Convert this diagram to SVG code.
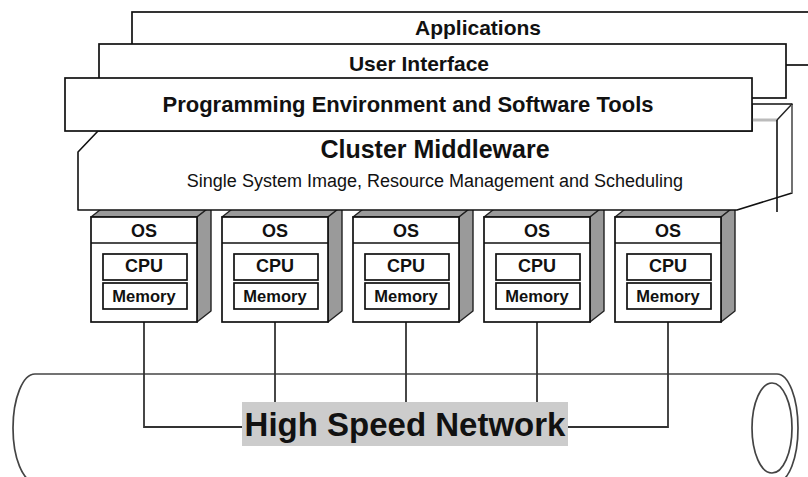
<svg xmlns="http://www.w3.org/2000/svg" width="808" height="477" viewBox="0 0 808 477">
<style>
.box{fill:#fff;stroke:#111;stroke-width:1.7}
.t{font-family:"Liberation Sans",Arial,sans-serif;font-weight:bold;fill:#111;text-anchor:middle}
.sub{font-family:"Liberation Sans",Arial,sans-serif;font-weight:normal;fill:#111;text-anchor:middle}
.side{fill:#9a9a9a;stroke:#222;stroke-width:1.4;stroke-linejoin:round}
.conn{fill:none;stroke:#333;stroke-width:1.8}
.pipe{fill:none;stroke:#444;stroke-width:1.7}
</style>
<defs>
<g id="nodeShape">
<polygon class="side" points="0,0 14,-11 120,-11 106,0"/>
<polygon class="side" points="106,0 120,-11 120,94 106,105"/>
<rect class="box" x="0" y="0" width="106" height="105"/>
<line x1="0" y1="26" x2="106" y2="26" stroke="#111" stroke-width="1.7"/>
<rect class="box" x="12" y="37" width="84" height="26"/>
<rect class="box" x="12" y="66" width="84" height="26"/>
<text class="t" x="53" y="20" font-size="18">OS</text>
<text class="t" x="53" y="55" font-size="18">CPU</text>
<text class="t" x="53" y="85" font-size="16.5">Memory</text>
</g>
</defs>

<g id="network">
<path class="pipe" d="M35 374 H777"/>
<path class="pipe" d="M35 374 A22 54 0 0 0 35 482"/>
<path class="pipe" d="M777 374 A21 54 0 0 1 777 482"/>
<ellipse class="pipe" cx="772" cy="428" rx="20" ry="45"/>
</g>

<g id="connectors">
<path class="conn" d="M144 322 V427 H242"/>
<path class="conn" d="M275 322 V402"/>
<path class="conn" d="M406 322 V402"/>
<path class="conn" d="M537 322 V402"/>
<path class="conn" d="M668 322 V427 H568"/>
</g>

<g id="network-label">
<rect x="242" y="402" width="326" height="44" fill="#cccccc"/>
<text class="t" x="405" y="436" font-size="33">High Speed Network</text>
</g>

<g id="node1"><use href="#nodeShape" transform="translate(91,217)"/></g>
<g id="node2"><use href="#nodeShape" transform="translate(222,217)"/></g>
<g id="node3"><use href="#nodeShape" transform="translate(353,217)"/></g>
<g id="node4"><use href="#nodeShape" transform="translate(484,217)"/></g>
<g id="node5"><use href="#nodeShape" transform="translate(615,217)"/></g>

<g id="applications">
<rect class="box" x="132" y="12" width="700" height="53"/>
<text class="t" x="478" y="35" font-size="21">Applications</text>
</g>

<g id="user-interface">
<rect class="box" x="99" y="44" width="687" height="54"/>
<text class="t" x="419" y="71" font-size="21">User Interface</text>
</g>

<g id="middleware">
<polygon points="98,131 78,152 78,210 737,210 792,193 792,104 752,104 752,131" fill="#fff" stroke="#111" stroke-width="1.6" stroke-linejoin="round"/>
<line x1="752" y1="120" x2="777" y2="120" stroke="#bbb" stroke-width="3"/>
<line x1="792" y1="104" x2="777" y2="120" stroke="#222" stroke-width="1.4"/>
<line x1="777" y1="120" x2="777" y2="212" stroke="#111" stroke-width="1.6"/>
<line x1="792" y1="105" x2="792" y2="193" stroke="#888" stroke-width="1.4"/>
<text class="t" x="435" y="158" font-size="25">Cluster Middleware</text>
<text class="sub" x="435" y="187" font-size="18">Single System Image, Resource Management and Scheduling</text>
</g>

<g id="programming-environment">
<rect class="box" x="65" y="78" width="687" height="53"/>
<text class="t" x="408" y="112" font-size="22">Programming Environment and Software Tools</text>
</g>
</svg>
